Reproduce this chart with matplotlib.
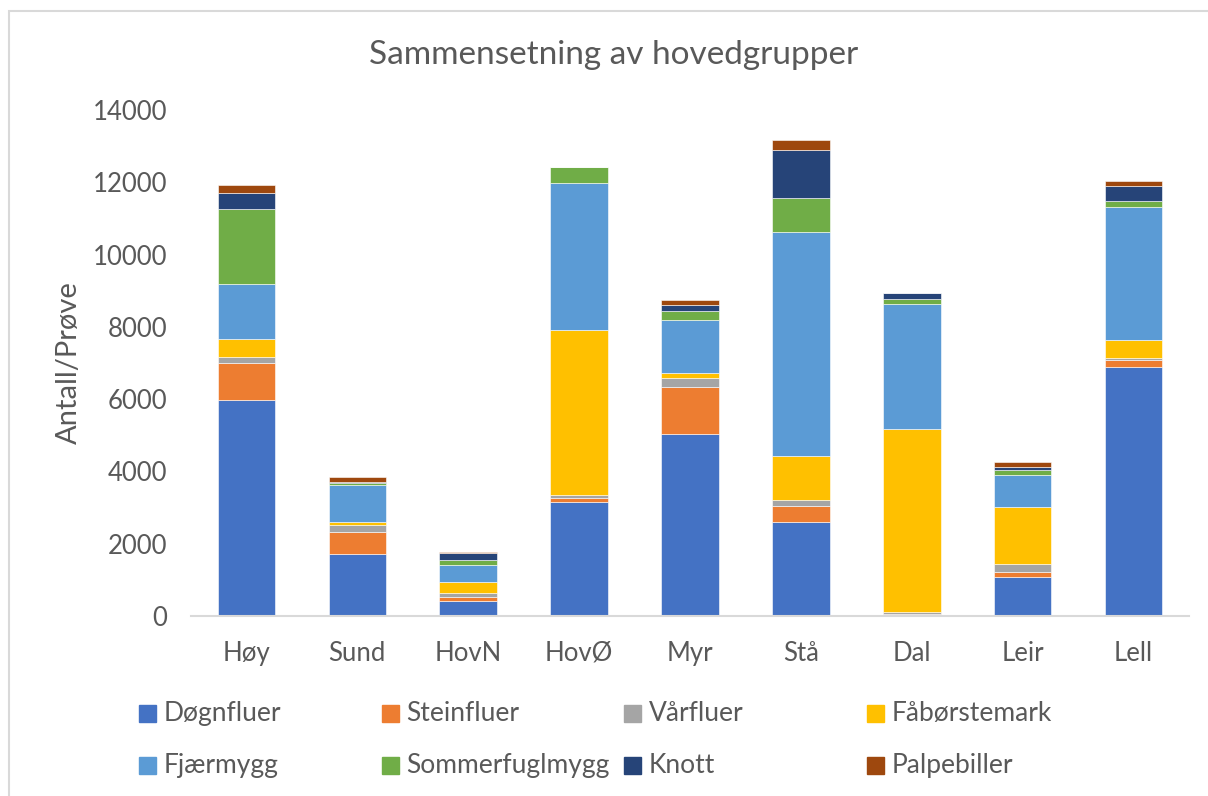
import numpy as np
import matplotlib.pyplot as plt
from matplotlib.patches import Rectangle

# stasjoner
steder = ['Høy', 'Sund', 'HovN', 'HovØ', 'Myr', 'Stå', 'Dal', 'Leir', 'Lell']

# antall per prøve for hver hovedgruppe
dognfluer     = [5980, 1710, 425, 3145, 5045, 2590, 20, 1070, 6900]
steinfluer    = [1010, 610, 110, 130, 1300, 460, 45, 155, 185]
varfluer      = [180, 185, 110, 75, 250, 150, 55, 205, 45]
faborstemark  = [490, 95, 295, 4555, 130, 1225, 5055, 1575, 500]
fjaermygg     = [1530, 1025, 480, 4085, 1455, 6200, 3460, 885, 3700]
sommerfugl    = [2065, 55, 130, 435, 265, 940, 140, 155, 140]
knott         = [435, 20, 190, 0, 150, 1335, 160, 65, 425]
palpebiller   = [230, 140, 20, 10, 140, 270, 10, 145, 130]

grupper = ['Døgnfluer', 'Steinfluer', 'Vårfluer', 'Fåbørstemark',
           'Fjærmygg', 'Sommerfuglmygg', 'Knott', 'Palpebiller']
serier = [dognfluer, steinfluer, varfluer, faborstemark,
          fjaermygg, sommerfugl, knott, palpebiller]
farger = ['#4472C4', '#ED7D31', '#A5A5A5', '#FFC000',
          '#5B9BD5', '#70AD47', '#264478', '#9E480E']

plt.rcParams['font.family'] = ['Lato', 'DejaVu Sans']
tekst = '#595959'

W, H = 1208, 796
fig = plt.figure(figsize=(W / 100, H / 100), dpi=100)
ax = fig.add_axes([191 / W, 1 - 616 / H, (1189 - 191) / W, (616 - 110) / H])

# kantlinje rundt diagramområdet
fig.patches.append(Rectangle((9 / W, -0.1), 1.2, (H - 11) / H + 0.1,
                             transform=fig.transFigure, fill=False,
                             edgecolor='#D9D9D9', linewidth=1.5))

x = np.arange(len(steder))
bunn = np.zeros(len(steder))
for navn, verdier, farge in zip(grupper, serier, farger):
    v = np.array(verdier, dtype=float)
    ax.bar(x, v, 0.52, bottom=bunn, color=farge, edgecolor='white',
           linewidth=0.4, label=navn)
    bunn += v

ax.set_xlim(-0.5, len(steder) - 0.5)
ax.set_ylim(0, 14000)
ax.set_yticks(np.arange(0, 14001, 2000))
ax.set_xticks(x)
ax.set_xticklabels(steder)
ax.tick_params(axis='both', length=0, colors=tekst, labelsize=18.5)
ax.tick_params(axis='x', pad=18)
ax.tick_params(axis='y', pad=17)
for s in ['top', 'right', 'left']:
    ax.spines[s].set_visible(False)
ax.spines['bottom'].set_color('#D9D9D9')
ax.spines['bottom'].set_linewidth(1.5)

ax.set_ylabel('Antall/Prøve', fontsize=21, color=tekst, labelpad=8)
fig.text(614 / W, 1 - 55 / H, 'Sammensetning av hovedgrupper',
         fontsize=24, color=tekst, ha='center', va='center')

# forklaring, tegnet som i Excel med like brede kolonner
for i, (navn, farge) in enumerate(zip(grupper, farger)):
    kol, rad = i % 4, i // 4
    px = 139 + kol * 242.5
    py = 713.5 + rad * 52
    fig.patches.append(Rectangle((px / W, 1 - (py + 8.5) / H), 17 / W, 17 / H,
                                 transform=fig.transFigure, color=farge))
    fig.text((px + 25) / W, 1 - py / H, navn, fontsize=19, color=tekst,
             ha='left', va='center')

fig.savefig('out.png', dpi=100)
